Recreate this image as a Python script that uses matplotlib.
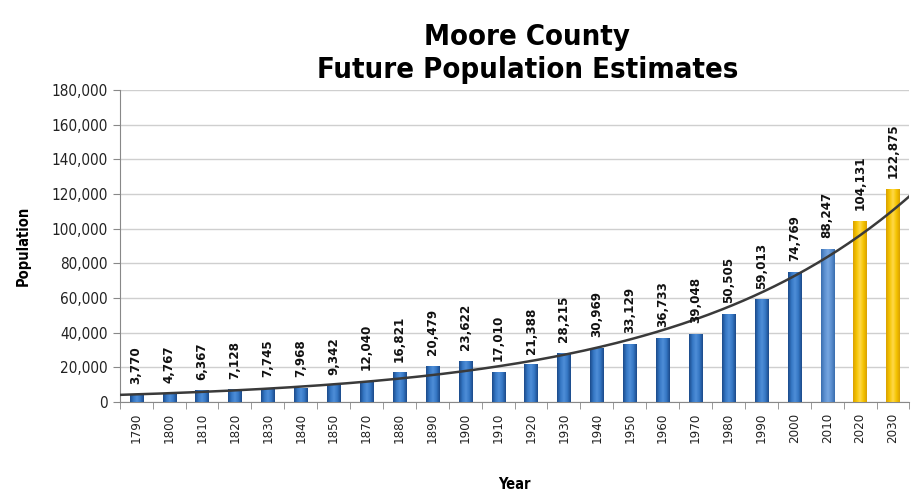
import numpy as np
import matplotlib
matplotlib.use("Agg")
import matplotlib.pyplot as plt
from matplotlib.ticker import FuncFormatter, FixedLocator
from matplotlib.colors import LinearSegmentedColormap

years = ["1790", "1800", "1810", "1820", "1830", "1840", "1850", "1870", "1880", "1890",
         "1900", "1910", "1920", "1930", "1940", "1950", "1960", "1970", "1980", "1990",
         "2000", "2010", "2020", "2030"]
population = [3770, 4767, 6367, 7128, 7745, 7968, 9342, 12040, 16821, 20479,
              23622, 17010, 21388, 28215, 30969, 33129, 36733, 39048, 50505, 59013,
              74769, 88247, 104131, 122875]
kind = ["hist"] * 21 + ["census2010"] + ["proj", "proj"]

cmaps = {
    "hist": LinearSegmentedColormap.from_list("h", ["#1b4a8a", "#3577c4", "#4f8ed8", "#3577c4", "#1b4a8a"]),
    "census2010": LinearSegmentedColormap.from_list("c", ["#3a6eae", "#5b8fd0", "#76a6e0", "#5b8fd0", "#3a6eae"]),
    "proj": LinearSegmentedColormap.from_list("p", ["#d9a000", "#f5c400", "#ffd84a", "#f5c400", "#d9a000"]),
}

plt.rcParams['font.family'] = ['DejaVu Sans']
plt.rcParams['font.stretch'] = 'condensed'

fig = plt.figure(figsize=(9.14, 4.92), dpi=100)
ax = fig.add_axes([0.131, 0.183, 0.864, 0.634])

x = np.arange(len(years))
width = 0.40
bars = ax.bar(x, population, width=width, color="none", edgecolor="none", zorder=3)
grad = np.linspace(0, 1, 64).reshape(1, -1)
for b, k in zip(bars, kind):
    bx, by = b.get_x(), b.get_y()
    ax.imshow(grad, cmap=cmaps[k], aspect="auto", zorder=3,
              extent=[bx, bx + b.get_width(), by, by + b.get_height()])

# exponential trendline fitted to the data (as Excel does)
coef = np.polyfit(x, np.log(population), 1)
xt = np.linspace(-0.5, len(years) - 0.5, 300)
ax.plot(xt, np.exp(np.polyval(coef, xt)), color="#3a3a3a", lw=1.8, zorder=4)

for xi, v in zip(x, population):
    ax.annotate(f"{v:,}", (xi, v), xytext=(0, 8), textcoords="offset points",
                rotation=90, ha="center", va="bottom",
                fontsize=9.5, fontweight="bold", color="#111111", zorder=5)

ax.set_xlim(-0.5, len(years) - 0.5)
ax.set_ylim(0, 180000)
ax.set_yticks(np.arange(0, 180001, 20000))
ax.yaxis.set_major_formatter(FuncFormatter(lambda v, p: f"{int(v):,}"))
ax.set_xticks(x)
ax.set_xticklabels(years, rotation=90, fontsize=9.5, color="#222222")
ax.tick_params(axis="x", length=0, pad=8)
ax.xaxis.set_minor_locator(FixedLocator(np.arange(-0.5, len(years), 1)))
ax.tick_params(axis="x", which="minor", length=5, color="#888888")
ax.tick_params(axis="y", labelsize=11, colors="#222222", length=5, color="#888888")
ax.grid(axis="y", color="#cfcfcf", lw=1, zorder=0)
for s in ["top", "right"]:
    ax.spines[s].set_visible(False)
ax.spines["left"].set_color("#888888")
ax.spines["bottom"].set_color("#888888")

ax.set_xlabel("Year", fontsize=10.5, fontweight="bold", labelpad=24)
ax.set_ylabel("Population", fontsize=10.5, fontweight="bold", labelpad=15)

fig.text(0.577, 0.925, "Moore County", ha="center", va="center", fontsize=21, fontweight="bold")
fig.text(0.577, 0.858, "Future Population Estimates", ha="center", va="center", fontsize=21, fontweight="bold")

fig.savefig("out.png", dpi=100)
